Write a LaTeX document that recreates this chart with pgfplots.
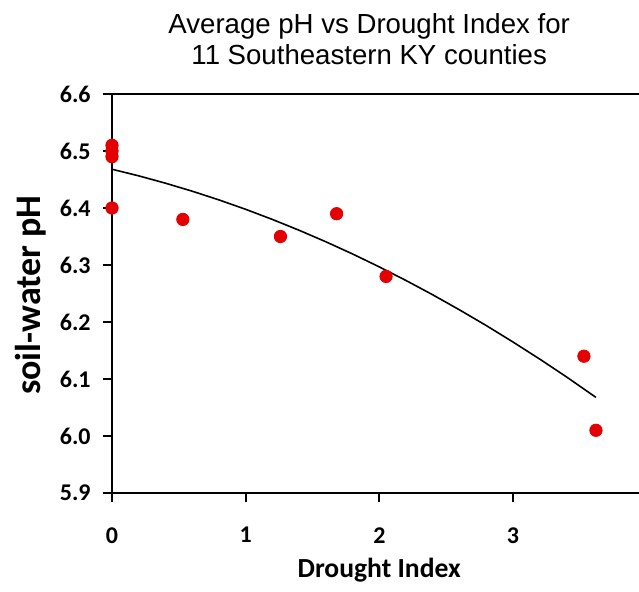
\documentclass[border=0pt]{standalone}
\usepackage{fontspec}
\setmainfont{Carlito}
\newfontfamily\titlefont{Liberation Sans}
\usepackage{pgfplots}
\pgfplotsset{compat=1.18}
\definecolor{ptred}{RGB}{228,0,0}
\begin{document}
\begin{tikzpicture}
\begin{axis}[
  name=ax,
  scale only axis, width=263.5pt, height=199.5pt,
  xmin=0, xmax=3.942, ymin=5.9, ymax=6.6,
  axis x line*=box, axis y line*=left,
  x axis line style={-, line width=1.3pt},
  y axis line style={-, line width=0.9pt},
  xtick={0,1,2,3}, ytick={5.9,6.0,6.1,6.2,6.3,6.4,6.5,6.6},
  xtick pos=left, ytick pos=left,
  tick align=outside, major tick length=4.5pt,
  tick style={black, line width=0.9pt},
  /pgf/number format/assume math mode=true,
  yticklabel={\pgfmathprintnumber[fixed,fixed zerofill,precision=1]{\tick}},
  ticklabel style={font=\bfseries\fontsize{12}{14}\selectfont},
  yticklabel style={inner sep=0pt, anchor=east, xshift=-6pt},
  xticklabel style={inner sep=0pt, anchor=north, yshift=-12.5pt},
  title={Average pH vs Drought Index for\\11 Southeastern KY counties},
  title style={font=\titlefont\fontsize{13.8}{15.5}\selectfont, align=center, inner sep=0pt,
    at={(axis description cs:0.488,1.0414)}, anchor=south},
  xlabel={Drought Index},
  xlabel style={font=\bfseries\fontsize{13.8}{15}\selectfont, inner sep=0pt,
    at={(axis description cs:0.507,-0.193)}, anchor=center},
  ylabel={soil-water pH},
  ylabel style={font=\bfseries\fontsize{18}{20}\selectfont, inner sep=0pt,
    at={(axis description cs:-0.155,0.496)}, anchor=center},
  clip=false,
]
\addplot[black, line width=0.8pt, no marks] coordinates {
(0,6.468)(0.2,6.4564)(0.4,6.4435)(0.6,6.4295)(0.8,6.4142)(1.0,6.3977)(1.2,6.3799)
(1.4,6.3609)(1.6,6.3407)(1.8,6.3193)(2.0,6.2966)(2.2,6.2727)(2.4,6.2476)(2.6,6.2212)
(2.8,6.1937)(3.0,6.1648)(3.2,6.1348)(3.4,6.1036)(3.62,6.0677)};
\addplot[only marks, mark=*, mark size=3.1pt, color=ptred, mark options={draw=ptred, fill=ptred}] coordinates {
(0,6.51)(0,6.50)(0,6.49)(0,6.40)(0.53,6.38)(1.26,6.35)(1.68,6.39)(2.05,6.28)(3.53,6.14)(3.62,6.01)};
\end{axis}
\pgfresetboundingbox
\path[use as bounding box] ([xshift=-56pt,yshift=-49.5pt]ax.south west) rectangle ([yshift=47pt]ax.north east);
\end{tikzpicture}
\end{document}
